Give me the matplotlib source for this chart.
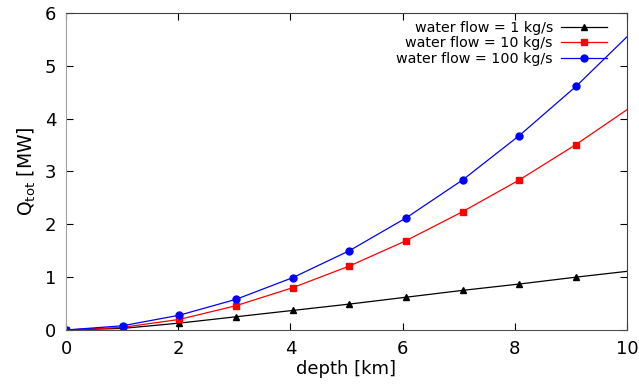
import matplotlib
matplotlib.use("Agg")
import matplotlib.pyplot as plt

### DATA ###

depth = [0, 1.01, 2.02, 3.03, 4.04, 5.05, 6.06, 7.07, 8.08, 9.09, 10]
q_1 = [0, 0.03, 0.13, 0.25, 0.37, 0.49, 0.62, 0.75, 0.87, 1.00, 1.11]
q_10 = [0, 0.05, 0.20, 0.46, 0.80, 1.21, 1.69, 2.24, 2.84, 3.51, 4.17]
q_100 = [0, 0.08, 0.28, 0.58, 0.99, 1.50, 2.12, 2.84, 3.68, 4.61, 5.55]

labels = ["water flow = 1 kg/s", "water flow = 10 kg/s", "water flow = 100 kg/s"]

### PLOT ###

fig = plt.figure(figsize=(6.39, 3.85), dpi=100)
ax = fig.add_axes([0.1033, 0.1429, 0.8779, 0.8233])

marks = list(range(10))
ax.plot(depth, q_1, color="black", lw=0.9, marker="^", ms=4.8, markevery=marks, label=labels[0])
ax.plot(depth, q_10, color="red", lw=0.9, marker="s", ms=4.8, markevery=marks, label=labels[1])
ax.plot(depth, q_100, color="blue", lw=0.9, marker="o", ms=5, markevery=marks, label=labels[2])

ax.set_xlim(0, 10)
ax.set_ylim(0, 6)
ax.set_xticks([0, 2, 4, 6, 8, 10])
ax.set_yticks([0, 1, 2, 3, 4, 5, 6])
ax.tick_params(direction="in", length=5, width=0.8, top=True, right=True, labelsize=13, pad=7)

ax.spines["left"].set_color("#a0a0a0")
ax.spines["bottom"].set_color("#505050")
ax.spines["top"].set_color("#404040")
ax.spines["right"].set_color("#404040")

ax.set_xlabel("depth [km]", fontsize=13, labelpad=2)
ax.set_ylabel(r"Q$_\mathrm{tot}$ [MW]", fontsize=13.5, labelpad=5)

# legend: text first, sample line on the right
leg = ax.legend(loc="upper right", frameon=False, markerfirst=False, fontsize=10.3,
                handlelength=3.2, labelspacing=0.12, handletextpad=0.6,
                borderaxespad=0.0, bbox_to_anchor=(0.975, 0.994))

fig.savefig("out.png", dpi=100)
